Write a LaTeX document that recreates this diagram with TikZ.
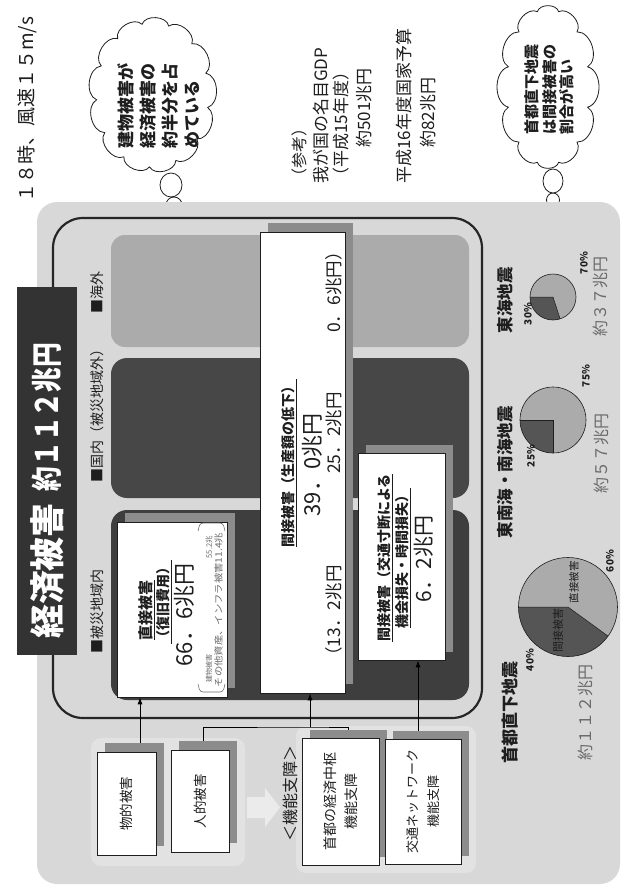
\documentclass[tikz,border=0pt]{standalone}
\usepackage{fontspec}
\setmainfont{Noto Sans CJK JP}
\usetikzlibrary{shapes.geometric,arrows.meta}
\definecolor{panel}{HTML}{D8D8D8}
\definecolor{halo}{HTML}{E2E2E2}
\definecolor{midg}{HTML}{ABABAB}
\definecolor{darkA}{HTML}{474747}
\definecolor{darkB}{HTML}{3E3E3E}
\definecolor{shad}{HTML}{8C8C8C}
\definecolor{titleg}{HTML}{333333}
\definecolor{txt}{HTML}{1E1E1E}
\definecolor{pielight}{HTML}{ABABAB}
\definecolor{piedark}{HTML}{555555}
\definecolor{valg}{HTML}{6A6A6A}
\definecolor{arrowg}{HTML}{EBEBEB}
\newcommand{\fsz}[1]{\fontsize{#1pt}{#1pt}\selectfont}
\begin{document}
\begin{tikzpicture}[x=1pt,y=-1pt,
  tx/.style={rotate=90, inner sep=0pt, text=txt},
  wbox/.style={draw=txt, line width=0.6pt, fill=white, inner sep=0pt, rectangle},
  arr/.style={draw=black, line width=0.8pt, -{Latex[length=7pt,width=5pt]}},
  ln/.style={draw=black, line width=0.8pt},
  cloudline/.style={draw=txt, fill=white, line width=0.8pt},
  bub/.style={ellipse, draw=txt, fill=white, line width=0.8pt, inner sep=0pt},
  pie/.style={circle, fill=pielight, inner sep=0pt},
]
\useasboundingbox (0,0) rectangle (621,888);

% header text
\node[tx, font={\fsz{19}}] (hdr) at (27,110) {１８時、風速１５m/s};

% cloud A
\node[bub, minimum width=5pt, minimum height=5pt] (bA3) at (177,218) {};
\node[bub, minimum width=16pt, minimum height=16pt] (bA2) at (174,205) {};
\node[bub, minimum width=22pt, minimum height=24pt] (bA1) at (171,185) {};
\foreach \i in {0,...,13}
  \coordinate (pA\i) at ({152.5+56*cos(\i*360/13+10)},{95+72*sin(\i*360/13+10)});
\filldraw[cloudline] (pA0) \foreach \i in {1,...,13} { to[bend left=75] (pA\i) } -- cycle;
\node[tx, anchor=west, align=left, font={\fontsize{17pt}{22pt}\selectfont\bfseries}] (cloudAt) at (158.5,149) {建物被害が\\経済被害の\\約半分を占\\めている};

% reference text
\node[tx, anchor=west, font={\fsz{16}}] (r1) at (299,185) {（参考）};
\node[tx, anchor=west, font={\fsz{17}}] (r2) at (321,184) {我が国の名目GDP};
\node[tx, anchor=west, font={\fsz{17}}] (r3) at (341,185) {（平成15年度）};
\node[tx, anchor=west, font={\fsz{17}}] (r4) at (364,148) {約501兆円};
\node[tx, anchor=west, font={\fsz{17}}] (r5) at (404,184) {平成16年度国家予算};
\node[tx, anchor=west, font={\fsz{17}}] (r6) at (428,148) {約82兆円};

% cloud B
\node[bub, minimum width=7pt, minimum height=7pt] (bB3) at (554,210) {};
\node[bub, minimum width=13pt, minimum height=14pt] (bB2) at (553,200) {};
\node[bub, minimum width=20pt, minimum height=24pt] (bB1) at (553,181) {};
\foreach \i in {0,...,12}
  \coordinate (pB\i) at ({548+41*cos(\i*360/12+15)},{87+78*sin(\i*360/12+15)});
\filldraw[cloudline] (pB0) \foreach \i in {1,...,12} { to[bend left=75] (pB\i) } -- cycle;
\node[tx, anchor=west, align=left, font={\fontsize{15pt}{17.5pt}\selectfont\bfseries}] (cloudBt) at (549.5,135) {首都直下地震\\は間接被害の\\割合が高い};

% panel
\fill[panel, rounded corners=20pt] (37,202) rectangle (620,884);
\fill[halo, rounded corners=10pt] (91,738) rectangle (245,866);
\fill[halo, rounded corners=10pt] (296,726) rectangle (476,873);

% regions
\fill[midg, rounded corners=14pt] (111,235) rectangle (469,347);
\fill[darkA, rounded corners=16pt] (111,358) rectangle (469,498);
\fill[darkB, rounded corners=16pt] (111,510) rectangle (469,700);

% outline
\draw[line width=2.2pt, draw=black!85, rounded corners=30pt] (53,218) rectangle (482,718);

% title
\node[fill=titleg, minimum width=60pt, minimum height=368pt, inner sep=0pt] (title) at (47,471) {};
\node[tx, text=white, font={\fsz{35}\bfseries}, xscale=0.97] (t1) at (47,571) {経済被害};
\node[tx, text=white, font={\fsz{31}\bfseries}, xscale=0.8] (t2) at (47,417) {約１１２兆円};

% region labels
\node[tx, anchor=west, font={\fsz{14}}] (l1) at (97,314) {■海外};
\node[tx, anchor=west, font={\fsz{14}}] (l2) at (97,483) {■国内（被災地域外）};
\node[tx, anchor=west, font={\fsz{14}}] (l3) at (97,654) {■被災地域内};

% white boxes with shadows
\fill[shad] (125,513) rectangle (235,688);
\node[wbox, minimum width=110pt, minimum height=175pt] (Bdir) at (172,609.5) {};
\fill[shad] (268,223) rectangle (353,684);
\node[wbox, minimum width=85pt, minimum height=461pt] (Bind) at (302.5,462.5) {};
\fill[shad] (366,445) rectangle (453,652);
\node[wbox, minimum width=87pt, minimum height=207pt] (Bind2) at (401.5,556.5) {};
\fill[shad] (105,743) rectangle (164,846);
\node[wbox, minimum width=59pt, minimum height=103pt] (Bmono) at (126.5,803.5) {};
\fill[shad] (179,741) rectangle (237,843);
\node[wbox, minimum width=58pt, minimum height=102pt] (Bhum) at (200,801) {};
\fill[shad] (310,730) rectangle (387,857);
\node[wbox, minimum width=77pt, minimum height=127pt] (Bcap) at (340.5,801.5) {};
\fill[shad] (393,731) rectangle (469,856);
\node[wbox, minimum width=76pt, minimum height=125pt] (Btra) at (423,801.5) {};

% direct damage box text
\node[tx, font={\fsz{15}\bfseries}] (d1) at (147,610) {\underline{直接被害}};
\node[tx, font={\fsz{14}\bfseries}] (d2) at (164,602) {\underline{（復旧費用）}};
\node[tx, font={\fsz{22}}] (d3) at (184,615) {66．6兆円};
\node[tx, anchor=west, font={\fsz{7}}, text=valg] (d4) at (209,683) {建物被害};
\node[tx, anchor=east, font={\fsz{7.5}}, text=valg] (d5) at (209,536) {55.2兆};
\node[tx, font={\fsz{9}}, text=valg, xscale=1.15] (d6) at (218.5,610) {その他資産、インフラ被害11.4兆};
\draw[valg, line width=0.6pt, rounded corners=3pt] (198,684) -- (200,692) -- (223,692) -- (225,684);
\draw[valg, line width=0.6pt, rounded corners=3pt] (198,531) -- (200,523) -- (223,523) -- (225,531);

% indirect (production) box text
\node[tx, font={\fsz{14}\bfseries}] (i1) at (289,463) {\underline{間接被害（生産額の低下）}};
\node[tx, font={\fsz{22}}] (i2) at (312,465) {39．0兆円};
\node[tx, font={\fsz{17.5}}] (i3) at (334,615) {（13．2兆円};
\node[tx, font={\fsz{17.5}}] (i4) at (334,433) {25．2兆円};
\node[tx, font={\fsz{17.5}}] (i5) at (334,288) {0．6兆円）};

% indirect (traffic) box text
\node[tx, font={\fsz{14}\bfseries}] (j1) at (385,558) {\underline{間接被害（交通寸断による}};
\node[tx, font={\fsz{14}\bfseries}] (j2) at (403,558) {\underline{機会損失・時間損失）}};
\node[tx, font={\fsz{21}}] (j3) at (424,559) {6．2兆円};

% left boxes text
\node[tx, font={\fsz{13.5}}] (m1) at (Bmono) {物的被害};
\node[tx, font={\fsz{13.5}}] (h1) at (Bhum) {人的被害};
\node[tx, align=center, font={\fontsize{14pt}{21pt}\selectfont}] (c1) at (Bcap) {首都の経済中枢\\機能支障};
\node[tx, align=center, font={\fontsize{13pt}{21pt}\selectfont}] (c2) at (Btra) {交通ネットワーク\\機能支障};
\node[tx, font={\fsz{16}}] (kn) at (290,793) {＜機能支障＞};

% light block arrow
\fill[arrowg] (247,797) -- (265,797) -- (265,788) -- (280,807.5) -- (265,827) -- (265,818) -- (247,818) -- cycle;

% connectors
\draw[arr] ([xshift=13.5pt,yshift=9pt]Bmono.north) -- ([xshift=13.5pt]Bmono.north |- Bdir.south);
\coordinate (jn) at (310,727);
\draw[ln] ([xshift=3pt,yshift=9pt]Bhum.north) |- (jn) -| ([xshift=8pt,yshift=8pt]Bcap.north);
\draw[arr] (jn) -- (jn |- Bind.south);
\draw[arr] ([xshift=-5pt,yshift=8pt]Btra.north) -- ([xshift=-5pt]Btra.north |- Bind2.south);

% pies
\node[pie, minimum size=46pt] (pieA) at (553,297) {};
\fill[piedark] (pieA.center) -- ++(72:23) arc (72:180:23) -- cycle;
\draw[txt, line width=0.5pt] (pieA.center) ++(72:23) -- (pieA.center) -- ++(180:23);
\draw[txt, line width=0.6pt] (pieA.center) circle (23);

\node[pie, minimum size=66pt] (pieB) at (553,420) {};
\fill[piedark] (pieB.center) -- ++(90:33) arc (90:180:33) -- cycle;
\draw[txt, line width=0.5pt] (pieB.center) ++(90:33) -- (pieB.center) -- ++(180:33);
\draw[txt, line width=0.6pt] (pieB.center) circle (33);

\node[pie, minimum size=99pt] (pieC) at (568,607) {};
\fill[piedark] (pieC.center) -- ++(36:49.5) arc (36:180:49.5) -- cycle;
\draw[txt, line width=0.5pt] (pieC.center) ++(36:49.5) -- (pieC.center) -- ++(180:49.5);
\draw[txt, line width=0.6pt] (pieC.center) circle (49.5);

% pie labels
\node[tx, font={\fsz{16.5}\bfseries}] (pa) at (505,300) {東海地震};
\node[tx, font={\fsz{10}\bfseries}] (pa1) at (528,314) {30\%};
\node[tx, font={\fsz{10}\bfseries}] (pa2) at (584,263) {70\%};
\node[tx, font={\fsz{16}}, text=valg] (pa3) at (600,296) {約３７兆円};

\node[tx, font={\fsz{16.5}\bfseries}] (pb) at (505,472) {東南海・南海地震};
\node[tx, font={\fsz{10}\bfseries}] (pb1) at (531,456) {25\%};
\node[tx, font={\fsz{10}\bfseries}] (pb2) at (586,376) {75\%};
\node[tx, font={\fsz{16}}, text=valg] (pb3) at (601,453) {約５７兆円};

\node[tx, font={\fsz{10.5}}] (pc4) at (574,582) {直接被害};
\node[tx, font={\fsz{11}}] (pc5) at (558,630) {間接被害};
\node[tx, font={\fsz{10}\bfseries}] (pc1) at (530,660) {40\%};
\node[tx, font={\fsz{10}\bfseries}] (pc2) at (610,561) {60\%};
\node[tx, font={\fsz{17}\bfseries}] (pc) at (510,712) {首都直下地震};
\node[tx, font={\fsz{16}}, text=valg] (pc3) at (585,712) {約１１２兆円};
\end{tikzpicture}
\end{document}
